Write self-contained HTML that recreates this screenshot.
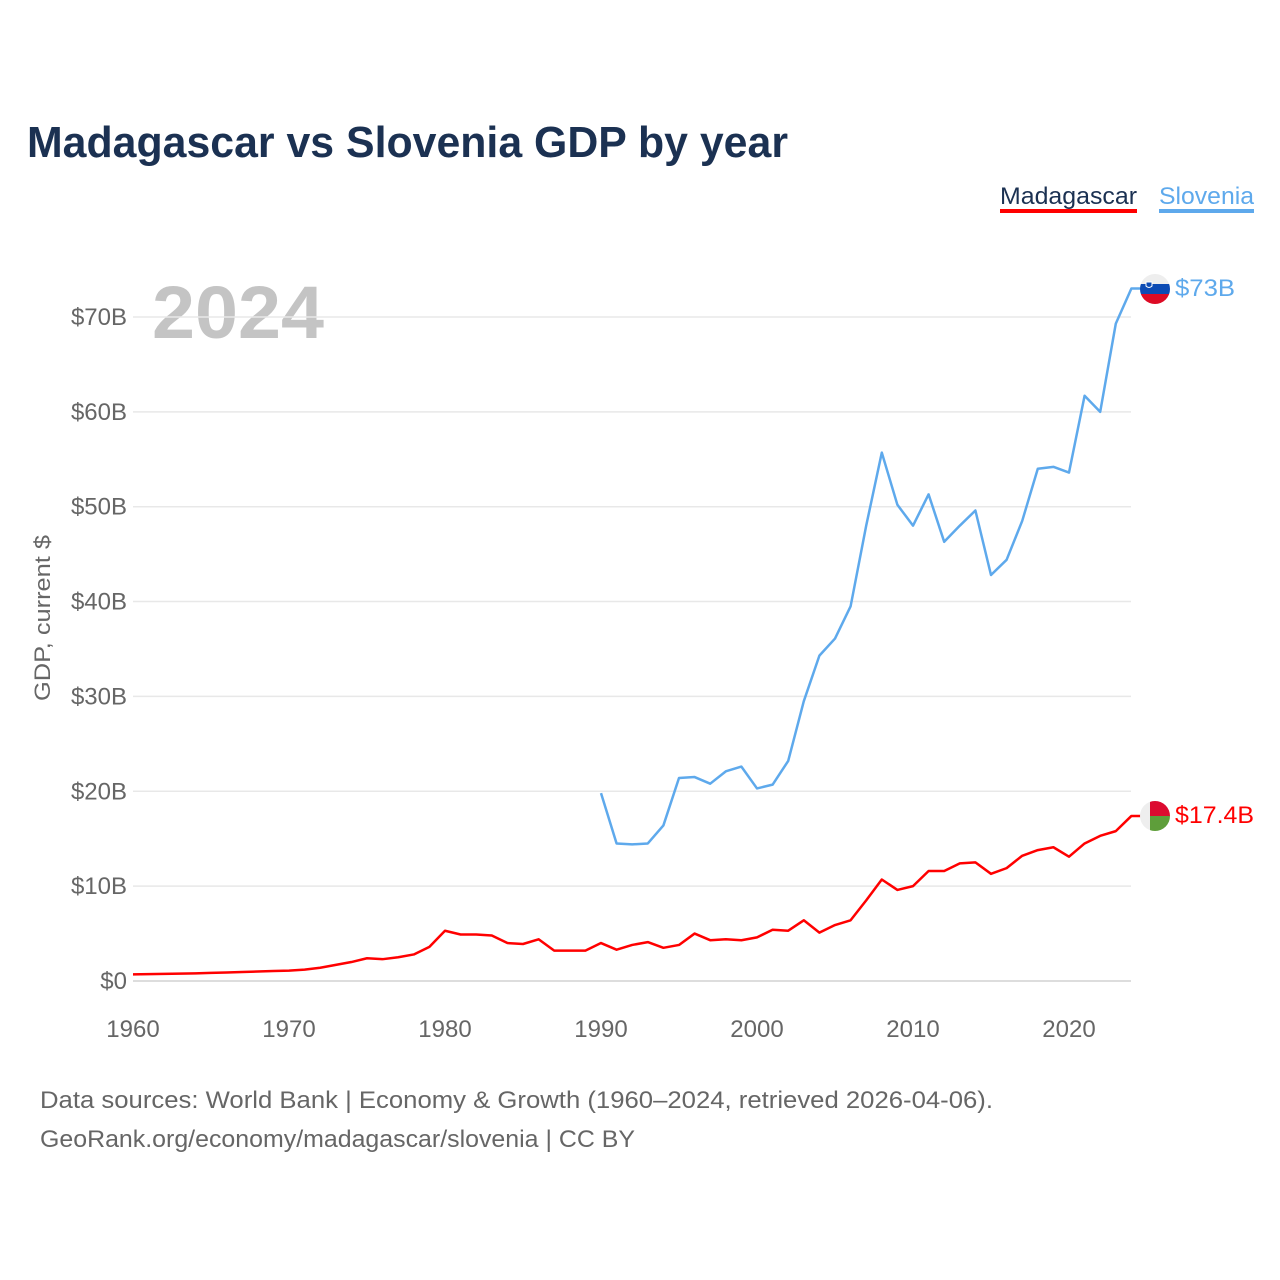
<!DOCTYPE html>
<html><head><meta charset="utf-8"><style>
body{margin:0;background:#fff;width:1280px;height:1280px;overflow:hidden;font-family:"Liberation Sans",sans-serif}
svg{display:block}
</style></head><body>
<svg width="1280" height="1280" id="chart">
<text x="27" y="157" font-size="44" font-weight="bold" fill="#1b3152" textLength="761" lengthAdjust="spacingAndGlyphs">Madagascar vs Slovenia GDP by year</text>
<g>
<text x="1000" y="204" font-size="24" fill="#1b3152" textLength="137" lengthAdjust="spacingAndGlyphs">Madagascar</text>
<rect x="1000" y="209" width="137" height="4" fill="#ff0000"/>
<text x="1159" y="204" font-size="24" fill="#5ea9ec" textLength="95" lengthAdjust="spacingAndGlyphs">Slovenia</text>
<rect x="1159" y="209" width="95" height="4" fill="#5ea9ec"/>
</g>
<text x="152" y="338" font-size="74" font-weight="bold" fill="#c4c4c4" textLength="172" lengthAdjust="spacingAndGlyphs">2024</text>
<text transform="translate(50,618) rotate(-90)" text-anchor="middle" font-size="22" fill="#666" textLength="166" lengthAdjust="spacingAndGlyphs">GDP, current $</text>
<g id="grid"></g><g id="lines"></g>
<text x="40" y="1108" font-size="24" fill="#666" textLength="953" lengthAdjust="spacingAndGlyphs">Data sources: World Bank | Economy &amp; Growth (1960–2024, retrieved 2026-04-06).</text>
<text x="40" y="1147" font-size="24" fill="#666" textLength="595" lengthAdjust="spacingAndGlyphs">GeoRank.org/economy/madagascar/slovenia | CC BY</text>
<g>
<clipPath id="c1"><circle cx="1155" cy="289" r="15"/></clipPath>
<g clip-path="url(#c1)"><rect x="1140" y="274" width="30" height="10" fill="#eee"/><rect x="1140" y="284" width="30" height="10" fill="#0c4bb4"/><rect x="1140" y="294" width="30" height="10" fill="#dd0b25"/><path d="M1146 282h6v4q-3 3-6 0z" fill="#0c4bb4" stroke="#fff" stroke-width="1"/></g></g>
<g>
<clipPath id="c2"><circle cx="1155" cy="816" r="15"/></clipPath>
<g clip-path="url(#c2)"><rect x="1140" y="801" width="10" height="30" fill="#eee"/><rect x="1150" y="801" width="20" height="15" fill="#dc0b30"/><rect x="1150" y="816" width="20" height="15" fill="#5e9e3a"/></g></g>
<text x="1175" y="296" font-size="24" fill="#5ea9ec" textLength="60" lengthAdjust="spacingAndGlyphs">$73B</text>
<text x="1175" y="823" font-size="24" fill="#ff0000" textLength="79" lengthAdjust="spacingAndGlyphs">$17.4B</text>
</svg>
<script>
const years=[];for(let y=1960;y<=2024;y++)years.push(y);
const madagascar=[0.7,0.72,0.75,0.78,0.8,0.85,0.9,0.95,1.0,1.05,1.1,1.2,1.4,1.7,2.0,2.4,2.3,2.5,2.8,3.6,5.3,4.9,4.9,4.8,4.0,3.9,4.4,3.2,3.2,3.2,4.0,3.3,3.8,4.1,3.5,3.8,5.0,4.3,4.4,4.3,4.6,5.4,5.3,6.4,5.1,5.9,6.4,8.5,10.7,9.6,10.0,11.6,11.6,12.4,12.5,11.3,11.9,13.2,13.8,14.1,13.1,14.5,15.3,15.8,17.4];
const sloveniaYears=[1990,1991,1992,1993,1994,1995,1996,1997,1998,1999,2000,2001,2002,2003,2004,2005,2006,2007,2008,2009,2010,2011,2012,2013,2014,2015,2016,2017,2018,2019,2020,2021,2022,2023,2024];
const slovenia=[19.8,14.5,14.4,14.5,16.4,21.4,21.5,20.8,22.1,22.6,20.3,20.7,23.2,29.5,34.3,36.1,39.5,48.0,55.7,50.2,48.0,51.3,46.3,48.0,49.6,42.8,44.4,48.5,54.0,54.2,53.6,61.7,60.0,69.3,73.0];
const yTicks=[0,10,20,30,40,50,60,70];
const xTicks=[1960,1970,1980,1990,2000,2010,2020];
const NS="http://www.w3.org/2000/svg";
const X=y=>133+(y-1960)*15.6, Y=v=>981-v*9.486;
const grid=document.getElementById('grid'),lines=document.getElementById('lines');
function mk(tag,attrs,parent,txt){const e=document.createElementNS(NS,tag);for(const k in attrs)e.setAttribute(k,attrs[k]);if(txt!==undefined)e.textContent=txt;parent.appendChild(e);return e;}
yTicks.forEach(v=>{
 const l=mk('line',{x1:133,x2:1131,y1:Y(v),y2:Y(v),stroke:v===0?'#ddd':'#e8e8e8','stroke-width':v===0?2:1.5},grid);
 
 
 const t=mk('text',{x:127,y:Y(v)+8,'text-anchor':'end','font-size':24,fill:'#666'},grid,'$'+v+(v?'B':''));
 
 
});
xTicks.forEach(y=>{
 const t=mk('text',{x:X(y),y:1037,'text-anchor':'middle','font-size':24,fill:'#666'},grid,y);
 
 
});
const mPts=years.map((y,i)=>X(y)+','+Y(madagascar[i]));
mPts.push((X(2024)+9)+','+Y(madagascar[madagascar.length-1]));
const p1=mk('polyline',{points:mPts.join(' '),fill:'none',stroke:'#ff0000','stroke-width':2.5,'stroke-linejoin':'round'},lines);


const sPts=sloveniaYears.map((y,i)=>X(y)+','+Y(slovenia[i]));
sPts.push((X(2024)+9)+','+Y(slovenia[slovenia.length-1]));
const p2=mk('polyline',{points:sPts.join(' '),fill:'none',stroke:'#5ea9ec','stroke-width':2.5,'stroke-linejoin':'round'},lines);


</script>
</body></html>
